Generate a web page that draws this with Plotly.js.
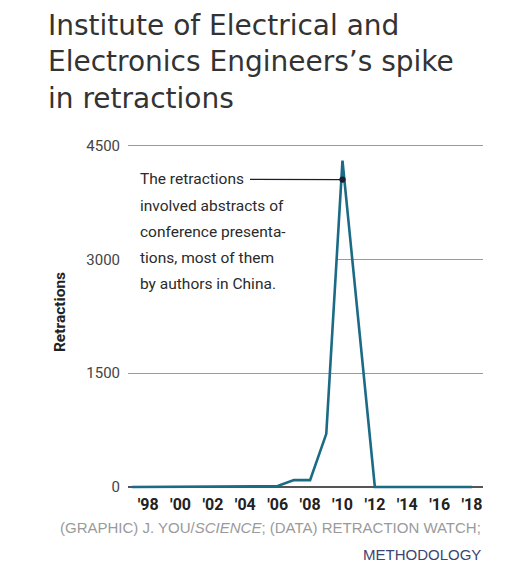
<!DOCTYPE html>
<html>
<head>
<meta charset="utf-8">
<script src="https://cdn.plot.ly/plotly-3.0.1.min.js"></script>
<style>html,body{margin:0;padding:0;background:#fff;}#chart{width:526px;height:578px;}</style>
</head>
<body>
<div id="chart"></div>
<script>
// Data
var years = [1997,1998,1999,2000,2001,2002,2003,2004,2005,2006,2007,2008,2009,2010,2011,2012,2013,2014,2015,2016,2017,2018];
var retractions = [0,0,0,0,0,0,2,5,8,12,90,90,700,4300,2160,0,0,0,0,0,0,0];
var tickYears = [1998,2000,2002,2004,2006,2008,2010,2012,2014,2016,2018];
var tickLabels = ["'98","'00","'02","'04","'06","'08","'10","'12","'14","'16","'18"];
var yTicks = [0,1500,3000,4500];
var titleLines = ["Institute of Electrical and","Electronics Engineers\u2019s spike","in retractions"];
var noteLines = ["The retractions","involved abstracts of","conference presenta-","tions, most of them","by authors in China."];
var noteY = [4053,3697,3355,3013,2671];
var peakYear = 2010, pointerValue = 4050;

var trace = {
  x: years, y: retractions, type: 'scatter', mode: 'lines',
  line: {color: '#1b6a86', width: 2.6}, hoverinfo: 'x+y'
};

var annotations = [];
var noteX = 1997.4;
noteLines.forEach(function(t, i){
  var a = {text: t, xref: 'x', yref: 'y', font: {family: 'Roboto, sans-serif', size: 15.5, color: '#2a2a2a'}};
  if (i === 0) {
    a.x = peakYear; a.y = pointerValue; a.axref = 'x'; a.ayref = 'y';
    a.ax = noteX; a.ay = noteY[i]; a.xanchor = 'left'; a.yanchor = 'middle';
    a.showarrow = true; a.arrowhead = 6; a.arrowsize = 1.3; a.arrowwidth = 1.2; a.arrowcolor = '#1a1f2e';
    a.standoff = 0; a.startstandoff = 4;
  } else {
    a.x = noteX; a.y = noteY[i]; a.xanchor = 'left'; a.yanchor = 'middle'; a.showarrow = false;
  }
  annotations.push(a);
});
annotations.push({text: '(GRAPHIC) J. YOU/<i>SCIENCE</i>; (DATA) RETRACTION WATCH;', xref: 'paper', yref: 'paper',
  x: 1.0, y: -0.1066, xanchor: 'right', yanchor: 'middle', showarrow: false,
  font: {family: 'Liberation Sans, Arial, sans-serif', size: 15, color: '#9a9a9a'}});
annotations.push({text: 'METHODOLOGY', xref: 'paper', yref: 'paper',
  x: 1.0, y: -0.1824, xanchor: 'right', yanchor: 'middle', showarrow: false,
  font: {family: 'Liberation Sans, Arial, sans-serif', size: 15, color: '#3b4570'}});

var layout = {
  width: 526, height: 578,
  margin: {l: 128, r: 43, t: 133.6, b: 88},
  paper_bgcolor: '#fff', plot_bgcolor: '#fff',
  showlegend: false,
  title: {
    text: titleLines.join('<br>'),
    xref: 'container', yref: 'container', x: 48/526, xanchor: 'left', y: 1 - 35/578, yanchor: 'top',
    font: {family: 'DejaVu Sans, sans-serif', size: 28, color: '#333'}
  },
  xaxis: {
    range: [1996.753, 2018.68], tickvals: tickYears, ticktext: tickLabels,
    showgrid: false, zeroline: false, showline: false, ticks: '',
    ticklabelstandoff: 3,
    tickfont: {family: 'Roboto, sans-serif', size: 16, color: '#222', weight: 700},
    fixedrange: true
  },
  yaxis: {
    range: [-40, 4650], tickvals: yTicks, ticks: '',
    showgrid: true, gridcolor: '#9a9a9a', gridwidth: 1,
    zeroline: true, zerolinecolor: '#555', zerolinewidth: 2,
    ticklabelstandoff: 7,
    tickfont: {family: 'Roboto, sans-serif', size: 15, color: '#444'},
    title: {text: 'Retractions', font: {family: 'Roboto, sans-serif', size: 15.5, color: '#222', weight: 700}, standoff: 16},
    fixedrange: true
  },
  shapes: [{type: 'rect', layer: 'between', xref: 'x', yref: 'y', x0: 1996.6, x1: 2009.7, y0: 2960, y1: 3040,
    fillcolor: '#fff', line: {width: 0}}],
  annotations: annotations
};

Plotly.newPlot('chart', [trace], layout, {displayModeBar: false, staticPlot: true});
</script>
</body>
</html>
